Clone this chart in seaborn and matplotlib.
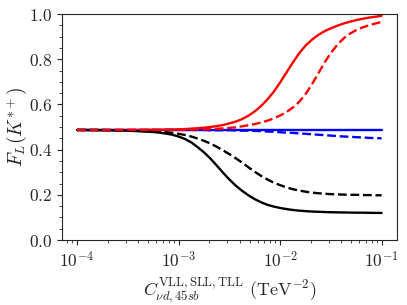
import numpy as np
import pandas as pd
import matplotlib
matplotlib.use("Agg")
import matplotlib.pyplot as plt
from matplotlib.ticker import AutoMinorLocator
import seaborn as sns

# log10 of the coupling, same grid for every curve
log_c = [-4.0, -3.75, -3.5, -3.25, -3.1875, -3.125, -3.0625, -3.0, -2.9375,
         -2.875, -2.8125, -2.75, -2.6875, -2.625, -2.5625, -2.5, -2.4375, -2.375,
         -2.3125, -2.25, -2.1875, -2.125, -2.0625, -2.0, -1.9375, -1.875,
         -1.8125, -1.75, -1.6875, -1.625, -1.5625, -1.5, -1.4375, -1.375,
         -1.3125, -1.25, -1.1875, -1.125, -1.0625, -1.0]

red_solid = [0.487, 0.487, 0.487, 0.488, 0.488, 0.489, 0.489, 0.490, 0.491,
             0.493, 0.495, 0.497, 0.500, 0.504, 0.509, 0.516, 0.524, 0.535,
             0.550, 0.569, 0.593, 0.622, 0.656, 0.697, 0.741, 0.785,
             0.826, 0.860, 0.886, 0.907, 0.924, 0.937, 0.948, 0.958,
             0.966, 0.973, 0.979, 0.984, 0.988, 0.992]
red_dashed = [0.487, 0.487, 0.487, 0.487, 0.487, 0.487, 0.488, 0.488, 0.488,
              0.489, 0.489, 0.490, 0.491, 0.492, 0.494, 0.496, 0.499, 0.503,
              0.508, 0.513, 0.520, 0.528, 0.538, 0.551, 0.566, 0.586,
              0.611, 0.645, 0.688, 0.736, 0.785, 0.828, 0.863, 0.892,
              0.913, 0.929, 0.941, 0.950, 0.958, 0.965]
blue_solid = [0.487] * len(log_c)
blue_dashed = [0.487, 0.487, 0.487, 0.487, 0.487, 0.487, 0.487, 0.487, 0.487,
               0.487, 0.487, 0.487, 0.486, 0.486, 0.486, 0.486, 0.485, 0.484,
               0.484, 0.483, 0.482, 0.480, 0.479, 0.477, 0.475, 0.474,
               0.472, 0.470, 0.468, 0.466, 0.464, 0.462, 0.460, 0.458,
               0.457, 0.455, 0.454, 0.452, 0.451, 0.450]
black_solid = [0.487, 0.486, 0.484, 0.478, 0.475, 0.471, 0.466, 0.458, 0.447,
               0.432, 0.411, 0.388, 0.361, 0.330, 0.298, 0.268, 0.241, 0.218,
               0.198, 0.181, 0.167, 0.156, 0.148, 0.142, 0.137, 0.133,
               0.130, 0.128, 0.126, 0.125, 0.124, 0.123, 0.1225, 0.122,
               0.1215, 0.121, 0.121, 0.1205, 0.120, 0.120]
black_dashed = [0.487, 0.487, 0.485, 0.481, 0.479, 0.477, 0.474, 0.470, 0.465,
                0.458, 0.449, 0.439, 0.427, 0.413, 0.397, 0.380, 0.362, 0.343,
                0.322, 0.302, 0.284, 0.268, 0.254, 0.243, 0.233, 0.225,
                0.219, 0.214, 0.210, 0.207, 0.205, 0.203, 0.202, 0.201,
                0.200, 0.200, 0.199, 0.199, 0.198, 0.198]

sns.set_style("ticks")
plt.rcParams.update({
    "font.family": "serif",
    "font.serif": ["cmr10"],
    "mathtext.fontset": "cm",
    "axes.formatter.use_mathtext": True,
    "axes.linewidth": 0.8,
    "xtick.major.size": 3.5,
    "ytick.major.size": 3.5,
    "xtick.minor.size": 2,
    "ytick.minor.size": 2,
    "xtick.major.width": 0.8,
    "ytick.major.width": 0.8,
    "xtick.minor.width": 0.6,
    "ytick.minor.width": 0.6,
})

c = 10.0 ** np.array(log_c)

fig = plt.figure(figsize=(4.07, 3.05), dpi=100)
ax = fig.add_axes([0.152, 0.213, 0.823, 0.741])

curves = [
    (blue_solid, "blue", "-"),
    (blue_dashed, "blue", "--"),
    (red_solid, "red", "-"),
    (black_solid, "black", "-"),
    (black_dashed, "black", "--"),
    (red_dashed, "red", "--"),
]
for vals, col, ls in curves:
    df = pd.DataFrame({"c": c, "fl": vals})
    sns.lineplot(data=df, x="c", y="fl", color=col, linestyle=ls, lw=1.7, ax=ax)

ax.set_xscale("log")
ax.set_ylim(0, 1)
ax.yaxis.set_minor_locator(AutoMinorLocator(4))
ax.tick_params(labelsize=12.5)
ax.set_xlabel(r"$C_{\nu d,45sb}^{\rm VLL,SLL,TLL}$ $(\mathrm{TeV}^{-2})$", fontsize=13)
ax.set_ylabel(r"$F_L(K^{*+})$", fontsize=14)
ax.yaxis.set_label_coords(-0.097, 0.5)

fig.savefig("out.png", dpi=100)
